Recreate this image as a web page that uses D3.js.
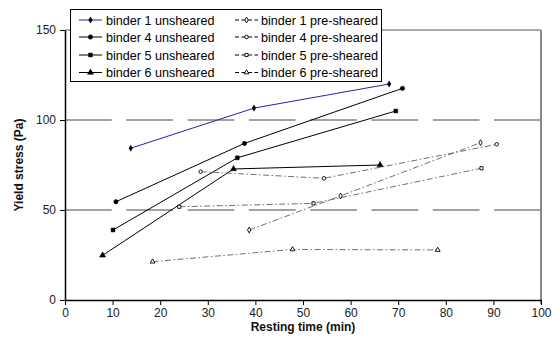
<!DOCTYPE html>
<html><head><meta charset="utf-8">
<script src="https://cdn.jsdelivr.net/npm/d3@7"></script>
<style>body{margin:0;background:#fff}svg{display:block}text{font-family:Arial,"Liberation Sans",sans-serif}</style>
</head><body><svg id="c" width="552" height="342"></svg>
<script>
const xTicks = [0,10,20,30,40,50,60,70,80,90,100];
const yTicks = [0,50,100,150];
const seriesNames = ["binder 1 unsheared","binder 4 unsheared","binder 5 unsheared","binder 6 unsheared",
  "binder 1 pre-sheared","binder 4 pre-sheared","binder 5 pre-sheared","binder 6 pre-sheared"];
const b1u_x = [13.8, 39.7, 68.1], b1u_y = [84.3, 106.6, 120];
const b4u_x = [10.7, 37.7, 70.9], b4u_y = [54.6, 87, 117.6];
const b5u_x = [10.1, 36.2, 69.5], b5u_y = [38.9, 79, 105];
const b6u_x = [7.9, 35.4, 66.2],  b6u_y = [24.8, 72.8, 75];
const b1p_x = [38.7, 57.9, 87.3], b1p_y = [38.9, 57.8, 87.4];
const b4p_x = [28.5, 54.4, 90.7], b4p_y = [71.3, 67.6, 86.5];
const b5p_x = [24, 52.2, 87.5],   b5p_y = [51.8, 53.7, 73.2];
const b6p_x = [18.4, 47.8, 78.3], b6p_y = [21.3, 28.1, 27.8];

const series = [
  {xs:b1u_x, ys:b1u_y, marker:"diamond", open:false, pre:false, color:"#2323a8"},
  {xs:b4u_x, ys:b4u_y, marker:"circle", open:false, pre:false, color:"#000"},
  {xs:b5u_x, ys:b5u_y, marker:"square", open:false, pre:false, color:"#000"},
  {xs:b6u_x, ys:b6u_y, marker:"triangle", open:false, pre:false, color:"#000"},
  {xs:b1p_x, ys:b1p_y, marker:"diamond", open:true, pre:true, color:"#707070"},
  {xs:b4p_x, ys:b4p_y, marker:"circle", open:true, pre:true, color:"#707070"},
  {xs:b5p_x, ys:b5p_y, marker:"square", open:true, pre:true, color:"#707070"},
  {xs:b6p_x, ys:b6p_y, marker:"triangle", open:true, pre:true, color:"#707070"}
];

const svg = d3.select("#c");
const x = d3.scaleLinear().domain([0,100]).range([65,541]);
const y = d3.scaleLinear().domain([0,150]).range([300,30]);

svg.append("g").selectAll("line").data([50,100]).join("line")
  .attr("x1",x(0)).attr("x2",x(100)).attr("y1",d=>y(d)).attr("y2",d=>y(d))
  .attr("stroke","#444").attr("stroke-width",1).attr("stroke-dasharray","46.7,14.6");

svg.append("line").attr("x1",x(0)).attr("x2",x(100)).attr("y1",y(150)).attr("y2",y(150)).attr("stroke","#555").attr("stroke-width",1);
svg.append("line").attr("x1",x(100)).attr("x2",x(100)).attr("y1",y(150)).attr("y2",y(0)+4).attr("stroke","#888").attr("stroke-width",2);

const xAxis = d3.axisBottom(x).tickValues(xTicks).tickSize(5).tickSizeOuter(0).tickPadding(3);
const gx = svg.append("g").attr("transform",`translate(0,${y(0)})`).call(xAxis);
const yAxis = d3.axisLeft(y).tickValues(yTicks).tickSize(5).tickSizeOuter(0).tickPadding(4);
const gy = svg.append("g").attr("transform",`translate(${x(0)},0)`).call(yAxis);
[gx,gy].forEach(g=>{
  g.select(".domain").attr("stroke","#000").attr("stroke-width",1.5);
  g.selectAll(".tick line").attr("stroke","#000");
  g.selectAll(".tick text").attr("font-size",12).attr("fill","#222").attr("font-family","Arial,'Liberation Sans',sans-serif");
});

svg.append("text").attr("x",303).attr("y",331).attr("text-anchor","middle")
  .attr("font-size",12).attr("font-weight","bold").attr("fill","#111").text("Resting time (min)");
svg.append("text").attr("transform","translate(23,165) rotate(-90)").attr("text-anchor","middle")
  .attr("font-size",12).attr("font-weight","bold").attr("fill","#111").text("Yield stress (Pa)");

function markerPath(type, size){
  const m = {diamond:d3.symbolDiamond, circle:d3.symbolCircle, square:d3.symbolSquare, triangle:d3.symbolTriangle}[type];
  return d3.symbol().type(m).size(size)();
}
function mSize(s){ return s.open ? 10 : (s.marker==="diamond" ? 11 : (s.marker==="triangle"?16:15)); }
const line = d3.line();
const plot = svg.append("g");
series.forEach(s=>{
  const pts = s.xs.map((v,i)=>[x(v), y(s.ys[i])]);
  plot.append("path").attr("d",line(pts)).attr("fill","none")
    .attr("stroke",s.color).attr("stroke-width",1)
    .attr("stroke-dasharray",s.pre?"6,2.5,1.5,2.5":null);
});
series.forEach(s=>{
  const pts = s.xs.map((v,i)=>[x(v), y(s.ys[i])]);
  plot.selectAll(null).data(pts).join("path")
    .attr("transform",d=>`translate(${d[0]},${d[1]})`)
    .attr("d",markerPath(s.marker, mSize(s)))
    .attr("fill",s.open?"#fff":"#000").attr("stroke","#000").attr("stroke-width",s.open?0.9:0.5);
});

const lg = svg.append("g");
lg.append("rect").attr("x",70.5).attr("y",9.5).attr("width",311).attr("height",72)
  .attr("fill","#fff").attr("stroke","#000").attr("stroke-width",1);
const rowsY = [20,37,55,72.5];
series.forEach((s,i)=>{
  const col = Math.floor(i/4), row = i%4;
  const lx = col===0 ? 79 : 235, tx = col===0 ? 106 : 261;
  const yy = rowsY[row];
  lg.append("line").attr("x1",lx).attr("x2",lx+23).attr("y1",yy).attr("y2",yy)
    .attr("stroke",i===0?s.color:"#000").attr("stroke-width",1)
    .attr("stroke-dasharray",s.pre?"4,2.5":null);
  lg.append("path").attr("transform",`translate(${lx+11.5},${yy})`)
    .attr("d",markerPath(s.marker, mSize(s)))
    .attr("fill",s.open?"#fff":"#000").attr("stroke","#000").attr("stroke-width",s.open?0.9:0.5);
  lg.append("text").attr("x",tx).attr("y",yy+4.5).attr("font-size",12.6).attr("fill","#000").text(seriesNames[i]);
});
</script></body></html>
